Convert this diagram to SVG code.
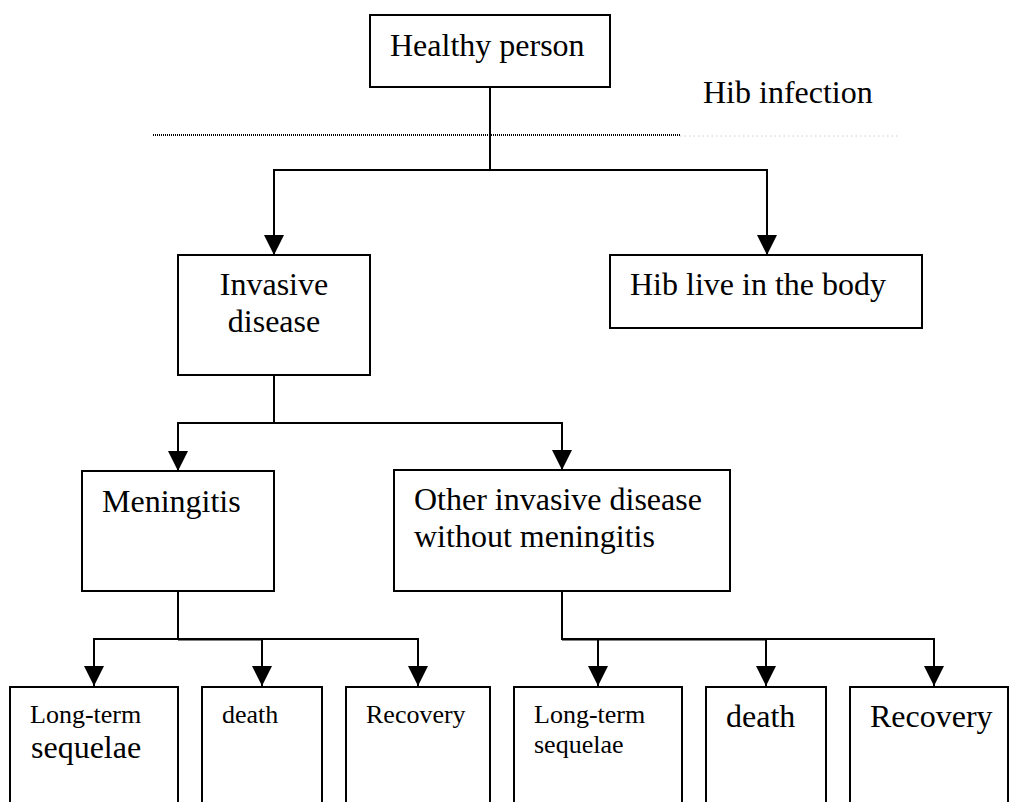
<svg xmlns="http://www.w3.org/2000/svg" width="1009" height="802" viewBox="0 0 1009 802">
<defs>
<marker id="arr" markerUnits="userSpaceOnUse" markerWidth="20" markerHeight="20" viewBox="0 0 20 20" refX="20" refY="10" orient="auto">
<path d="M0,0 L20,10 L0,20 Z" fill="#000"/>
</marker>
</defs>
<style>
.box{fill:#fff;stroke:#000;stroke-width:2}
.open{fill:none;stroke:#000;stroke-width:2}
.c{fill:none;stroke:#000;stroke-width:2}
.t{font-family:"Liberation Serif","Times New Roman",serif;font-size:32px;fill:#000}
.s{font-family:"Liberation Serif","Times New Roman",serif;font-size:26px;fill:#000}
</style>
<rect width="1009" height="802" fill="#fff"/>
<g id="divider">
<line x1="153" y1="135" x2="680" y2="135" stroke="#000" stroke-width="2" stroke-dasharray="1 1"/>
<line x1="680" y1="136" x2="898" y2="136" stroke="#ccc" stroke-width="1" stroke-dasharray="1.5 3"/>
<text class="t" x="703" y="103">Hib infection</text>
</g>
<g id="connectors">
<line class="c" x1="490" y1="87" x2="490" y2="170"/>
<line class="c" x1="273" y1="170" x2="768" y2="170"/>
<line class="c" x1="274" y1="170" x2="274" y2="255" marker-end="url(#arr)"/>
<line class="c" x1="767" y1="170" x2="767" y2="255" marker-end="url(#arr)"/>
<line class="c" x1="274" y1="375" x2="274" y2="423"/>
<line class="c" x1="177" y1="423" x2="563" y2="423"/>
<line class="c" x1="178" y1="423" x2="178" y2="471" marker-end="url(#arr)"/>
<line class="c" x1="562" y1="423" x2="562" y2="470" marker-end="url(#arr)"/>
<line class="c" x1="178" y1="591" x2="178" y2="639"/>
<line class="c" x1="93" y1="639" x2="419" y2="639"/>
<line class="c" x1="178" y1="639.5" x2="262" y2="639.5" stroke-width="3"/>
<line class="c" x1="94" y1="639" x2="94" y2="686" marker-end="url(#arr)"/>
<line class="c" x1="262" y1="639" x2="262" y2="686" marker-end="url(#arr)"/>
<line class="c" x1="418" y1="639" x2="418" y2="686" marker-end="url(#arr)"/>
<line class="c" x1="562" y1="591" x2="562" y2="639"/>
<line class="c" x1="561" y1="639" x2="935" y2="639"/>
<line class="c" x1="562" y1="639.5" x2="766" y2="639.5" stroke-width="3"/>
<line class="c" x1="598" y1="639" x2="598" y2="686" marker-end="url(#arr)"/>
<line class="c" x1="766" y1="639" x2="766" y2="686" marker-end="url(#arr)"/>
<line class="c" x1="934" y1="639" x2="934" y2="686" marker-end="url(#arr)"/>
</g>
<g id="healthy">
<rect class="box" x="370" y="15" width="240" height="72"/>
<text class="t" x="390" y="56">Healthy person</text>
</g>
<g id="invasive">
<rect class="box" x="178" y="255" width="192" height="120"/>
<text class="t" x="274" y="295" text-anchor="middle">Invasive</text>
<text class="t" x="274" y="332" text-anchor="middle">disease</text>
</g>
<g id="hiblive">
<rect class="box" x="610" y="255" width="312" height="73"/>
<text class="t" x="630" y="295">Hib live in the body</text>
</g>
<g id="meningitis">
<rect class="box" x="82" y="471" width="192" height="120"/>
<text class="t" x="102" y="512">Meningitis</text>
</g>
<g id="other">
<rect class="box" x="394" y="470" width="336" height="121"/>
<text class="t" x="414" y="510">Other invasive disease</text>
<text class="t" x="414" y="547">without meningitis</text>
</g>
<g id="m-sequelae">
<path class="open" d="M10,810 V687 H178 V810"/>
<text class="s" x="30" y="723">Long-term</text>
<text class="t" x="31" y="758">sequelae</text>
</g>
<g id="m-death">
<path class="open" d="M202,810 V687 H322 V810"/>
<text class="s" x="222" y="723">death</text>
</g>
<g id="m-recovery">
<path class="open" d="M346,810 V687 H490 V810"/>
<text class="s" x="366" y="723">Recovery</text>
</g>
<g id="o-sequelae">
<path class="open" d="M514,810 V687 H682 V810"/>
<text class="s" x="534" y="723">Long-term</text>
<text class="s" x="534" y="753">sequelae</text>
</g>
<g id="o-death">
<path class="open" d="M706,810 V687 H826 V810"/>
<text class="t" x="726" y="727">death</text>
</g>
<g id="o-recovery">
<path class="open" d="M850,810 V687 H1008 V810"/>
<text class="t" x="870" y="727">Recovery</text>
</g>
</svg>
